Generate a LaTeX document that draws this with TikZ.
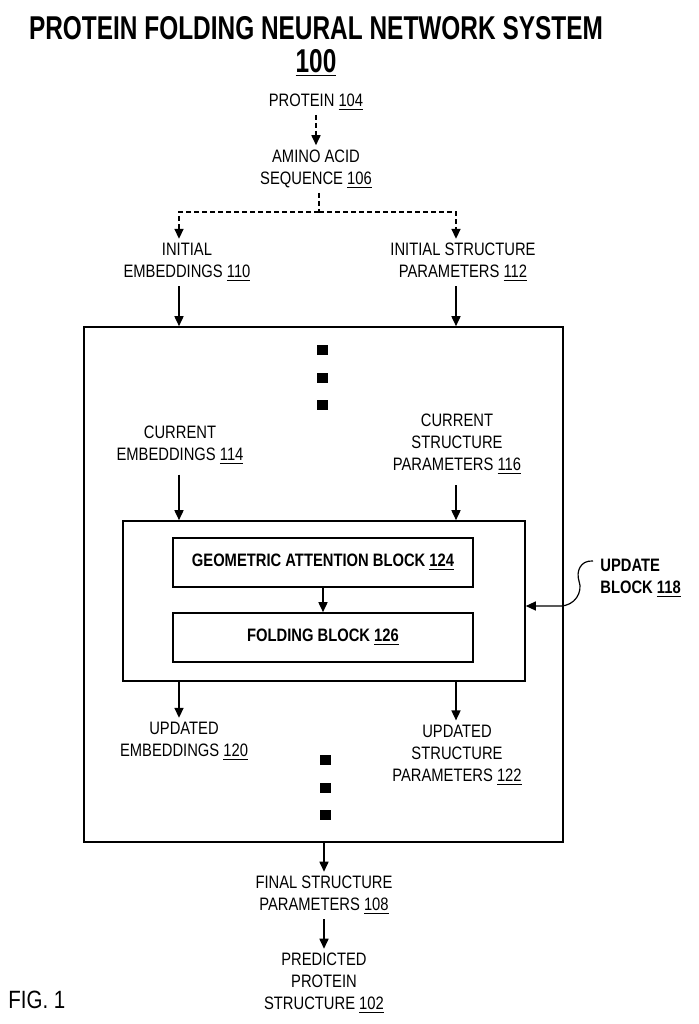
\documentclass[tikz,border=0pt]{standalone}
\usepackage{fontspec}
\setmainfont{Liberation Sans}[FakeStretch=0.82]
\newfontfamily\headfont{Liberation Sans}[FakeStretch=0.74]
\usetikzlibrary{arrows.meta, positioning}
\newcommand{\refno}[1]{\underline{#1}}
\tikzset{
    plaintext/.style={
        align=center, inner sep=2pt,
        font=\fontsize{9}{11}\selectfont
    },
    boldtext/.style={plaintext, font=\fontsize{9}{11}\selectfont\bfseries},
    headtext/.style={inner sep=1pt, font=\headfont\bfseries\fontsize{16.5}{18}\selectfont},
    blockbox/.style={
        rectangle, draw=black, line width=0.8pt,
        fill=white, inner sep=0pt
    },
    wire/.style={draw=black, line width=0.8pt, -{Triangle[length=5pt,width=4.5pt]}},
    dashwire/.style={wire, dash pattern=on 2.5pt off 1.5pt},
    leader/.style={draw=black, line width=0.6pt, -{Triangle[length=5pt,width=4.5pt]}},
    vdot/.style={rectangle, fill=black, minimum width=5.5pt, minimum height=5pt, inner sep=0pt}
}

\begin{document}
\begin{tikzpicture}[x=0.5pt, y=-0.5pt]
\useasboundingbox (0,0) rectangle (699,1024);

% Title
\node[headtext] (title) at (316,28) {PROTEIN FOLDING NEURAL NETWORK SYSTEM};
\node[headtext] (sysno) at (316,63) {\refno{100}};

% Input
\node[plaintext] (prot) at (316,102) {PROTEIN \refno{104}};
\node[plaintext] (seq) at (316,169) {AMINO ACID\\SEQUENCE \refno{106}};
\draw[dashwire] (prot) -- (seq);

% Initial values
\coordinate (lcol) at (179,0);
\coordinate (rcol) at (456,0);
\coordinate (split) at (319,212);
\node[plaintext] (initemb) at (187,262.5) {INITIAL\\EMBEDDINGS \refno{110}};
\node[plaintext] (initstr) at (463,262.5) {INITIAL STRUCTURE\\PARAMETERS \refno{112}};

\draw[dashwire, -] (seq.south -| split) -- (split);
\draw[dashwire] (split) -| (lcol |- initemb.north);
\draw[dashwire] (split) -| (rcol |- initstr.north);

% Stack of update blocks
\node[blockbox, minimum width=239.5pt, minimum height=257.5pt] (stack) at (323.5,584.5) {};

\draw[wire] (initemb.south -| lcol) -- (lcol |- stack.north);
\draw[wire] (initstr.south -| rcol) -- (rcol |- stack.north);

\foreach \y in {350,378,405} {
    \node[vdot] at (322,\y) {};
}

% Current values
\node[plaintext] (curemb) at (180,445) {CURRENT\\EMBEDDINGS \refno{114}};
\node[plaintext] (curstr) at (457,444.5) {CURRENT\\STRUCTURE\\PARAMETERS \refno{116}};

% Update block
\node[blockbox, minimum width=201pt, minimum height=80pt] (upd) at (324,601) {};
\node[blockbox, boldtext, minimum width=150pt, minimum height=24.5pt] (geo) at (323,562.5) {GEOMETRIC ATTENTION BLOCK \refno{124}};
\node[blockbox, boldtext, minimum width=150pt, minimum height=24.5pt] (fold) at (323,637.5) {FOLDING BLOCK \refno{126}};
\draw[wire] (geo) -- (fold);

\draw[wire, shorten <=3pt] (curemb.south -| lcol) -- (lcol |- upd.north);
\draw[wire, shorten <=3pt] (curstr.south -| rcol) -- (rcol |- upd.north);

\node[boldtext, anchor=west, align=left] (updlbl) at (596,578) {UPDATE\\BLOCK \refno{118}};
\coordinate (updtip) at ([shift={(0,5)}]upd.east);
\draw[leader] ([shift={(-3,-17)}]updlbl.west) .. controls (580,560) and (576,572) .. (579,581)
    .. controls (583,592) and (575,606) .. (560,606) -- (updtip);

% Updated values
\node[plaintext] (updemb) at (184,741.5) {UPDATED\\EMBEDDINGS \refno{120}};
\node[plaintext] (updstr) at (457,755) {UPDATED\\STRUCTURE\\PARAMETERS \refno{122}};
\draw[wire] (lcol |- upd.south) -- (updemb.north -| lcol);
\draw[wire] (rcol |- upd.south) -- (updstr.north -| rcol);

\foreach \y in {760,788,815} {
    \node[vdot] at (325,\y) {};
}

% Output
\coordinate (ocol) at (324,0);
\node[plaintext] (final) at (324,895.5) {FINAL STRUCTURE\\PARAMETERS \refno{108}};
\node[plaintext] (pred) at (324,983.5) {PREDICTED\\PROTEIN\\STRUCTURE \refno{102}};
\draw[wire] (ocol |- stack.south) -- (final.north -| ocol);
\draw[wire] (final) -- (pred);

\node[anchor=west, inner sep=0pt, font=\fontsize{12.5}{14}\selectfont] (fig) at (8,1000) {FIG. 1};

\end{tikzpicture}
\end{document}
